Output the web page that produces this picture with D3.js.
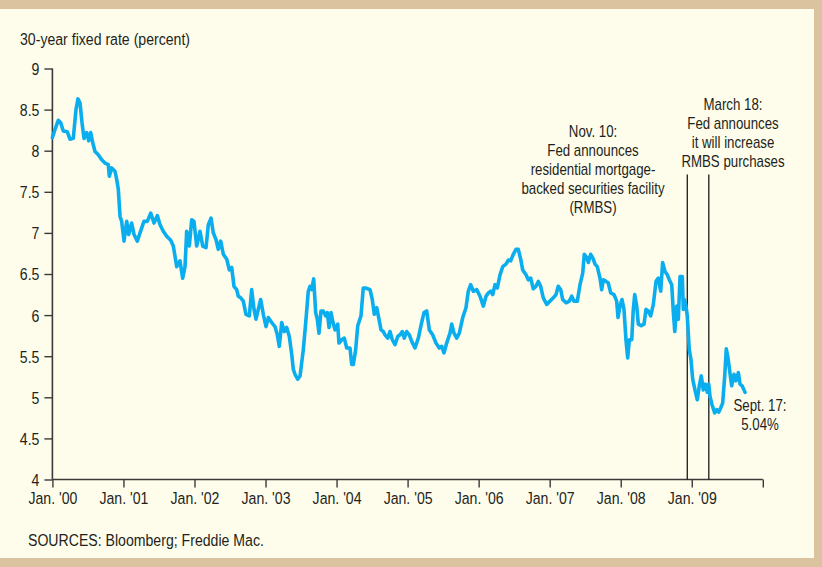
<!DOCTYPE html>
<html>
<head>
<meta charset="utf-8">
<script src="https://cdn.jsdelivr.net/npm/d3@7"></script>
<style>
  html, body { margin: 0; padding: 0; background: #fefdeb; }
  svg { display: block; }
  text { font-family: "Liberation Sans", Arial, sans-serif; fill: #231f20; }
</style>
</head>
<body>
<svg id="chart" width="822" height="567"></svg>
<script>
// ---- Data (years since Jan. 2000, weekly 30-year fixed rate, percent) ----
const times = [0.00,0.037,0.083,0.117,0.153,0.210,0.248,0.294,0.332,0.360,0.389,0.417,0.445,0.483,0.511,0.539,0.567,0.600,0.646,0.694,0.740,0.787,0.801,0.835,0.881,0.905,0.928,0.952,0.975,1.008,1.046,1.074,1.116,1.149,1.195,1.233,1.289,1.336,1.384,1.430,1.477,1.515,1.561,1.609,1.665,1.702,1.750,1.796,1.834,1.867,1.890,1.927,1.961,1.993,2.031,2.078,2.116,2.162,2.195,2.233,2.265,2.303,2.335,2.369,2.406,2.454,2.490,2.524,2.556,2.594,2.617,2.651,2.687,2.725,2.772,2.805,2.838,2.866,2.898,2.932,2.969,3.007,3.039,3.087,3.133,3.166,3.194,3.228,3.264,3.298,3.335,3.369,3.391,3.415,3.453,3.486,3.532,3.566,3.602,3.626,3.650,3.678,3.706,3.729,3.753,3.781,3.813,3.847,3.870,3.894,3.922,3.950,3.978,4.016,4.034,4.072,4.109,4.143,4.189,4.213,4.236,4.269,4.298,4.344,4.376,4.410,4.438,4.471,4.503,4.531,4.565,4.588,4.626,4.658,4.682,4.720,4.752,4.785,4.823,4.861,4.893,4.925,4.953,4.987,5.024,5.058,5.104,5.151,5.198,5.231,5.269,5.306,5.353,5.400,5.446,5.480,5.512,5.550,5.597,5.621,5.653,5.691,5.728,5.776,5.822,5.854,5.888,5.925,5.973,6.019,6.066,6.104,6.136,6.170,6.198,6.231,6.263,6.301,6.339,6.385,6.418,6.451,6.488,6.526,6.558,6.592,6.620,6.667,6.699,6.733,6.769,6.807,6.840,6.873,6.910,6.958,7.004,7.051,7.089,7.121,7.155,7.183,7.230,7.276,7.310,7.342,7.389,7.427,7.465,7.487,7.521,7.544,7.577,7.614,7.638,7.670,7.708,7.732,7.755,7.793,7.825,7.859,7.905,7.943,7.962,7.990,8.018,8.046,8.074,8.098,8.121,8.155,8.177,8.197,8.225,8.248,8.288,8.328,8.356,8.388,8.422,8.459,8.497,8.529,8.563,8.590,8.623,8.656,8.684,8.718,8.741,8.761,8.788,8.811,8.835,8.867,8.881,8.895,8.919,8.937,8.965,8.989,9.013,9.045,9.078,9.106,9.134,9.162,9.191,9.219,9.239,9.257,9.285,9.323,9.351,9.379,9.407,9.435,9.464,9.486,9.510,9.534,9.562,9.595,9.623,9.656,9.680,9.709,9.750];
const rates = [8.16,8.26,8.37,8.34,8.24,8.23,8.14,8.15,8.50,8.63,8.58,8.34,8.15,8.22,8.12,8.22,8.10,7.99,7.95,7.89,7.85,7.83,7.69,7.79,7.75,7.65,7.53,7.20,7.14,6.90,7.14,6.98,7.12,6.98,6.90,7.00,7.14,7.14,7.24,7.12,7.21,7.10,7.02,6.96,6.91,6.84,6.59,6.66,6.45,6.59,7.02,6.84,7.16,7.14,6.84,7.02,6.84,6.82,7.10,7.18,7.00,6.92,6.80,6.90,6.74,6.68,6.55,6.58,6.35,6.31,6.23,6.21,6.17,6.01,5.99,6.31,6.07,5.95,6.07,6.19,6.01,5.86,5.97,5.91,5.86,5.76,5.62,5.91,5.80,5.85,5.74,5.52,5.34,5.28,5.22,5.26,5.58,5.91,6.29,6.35,6.31,6.44,6.03,5.95,5.78,6.05,6.05,5.99,6.03,5.85,6.03,5.91,5.82,5.89,5.66,5.70,5.72,5.60,5.60,5.40,5.40,5.58,5.87,5.99,6.33,6.33,6.32,6.31,6.19,6.01,6.09,5.99,5.82,5.80,5.76,5.72,5.80,5.70,5.64,5.74,5.76,5.80,5.72,5.80,5.76,5.68,5.60,5.72,5.91,6.03,6.05,5.82,5.76,5.66,5.60,5.62,5.54,5.66,5.78,5.89,5.78,5.72,5.78,5.97,6.09,6.29,6.37,6.29,6.31,6.23,6.11,6.23,6.27,6.29,6.25,6.37,6.33,6.49,6.59,6.62,6.67,6.66,6.74,6.80,6.80,6.68,6.55,6.49,6.43,6.45,6.32,6.35,6.41,6.35,6.21,6.13,6.17,6.21,6.25,6.35,6.31,6.19,6.15,6.17,6.23,6.17,6.17,6.37,6.51,6.74,6.70,6.64,6.74,6.68,6.62,6.59,6.45,6.31,6.43,6.41,6.39,6.27,6.25,6.17,5.97,6.11,6.19,6.07,5.70,5.48,5.70,5.70,6.07,6.25,6.11,5.89,5.87,5.89,6.07,6.05,5.99,6.13,6.41,6.45,6.29,6.64,6.53,6.49,6.43,6.37,6.03,5.80,6.11,5.95,6.47,6.47,6.07,6.19,6.11,5.99,5.58,5.46,5.22,5.09,4.97,5.14,5.26,5.09,5.16,5.06,5.16,5.01,4.91,4.81,4.85,4.82,4.87,4.93,5.26,5.59,5.48,5.32,5.14,5.28,5.20,5.30,5.16,5.14,5.06];

const xTickValues = [0,1,2,3,4,5,6,7,8,9,10];
const xTickLabels = ["Jan. '00","Jan. '01","Jan. '02","Jan. '03","Jan. '04","Jan. '05","Jan. '06","Jan. '07","Jan. '08","Jan. '09",""];
const yTickValues = [4,4.5,5,5.5,6,6.5,7,7.5,8,8.5,9];
const yTickLabels = ["4","4.5","5","5.5","6","6.5","7","7.5","8","8.5","9"];

const eventTimes = [8.937, 9.240];   // Nov. 10, 2008 and March 18, 2009 as drawn
const eventTop = 7.71;                // top of the event lines (rate units)

const titleText = "30-year fixed rate (percent)";
const sourceText = "SOURCES: Bloomberg; Freddie Mac.";
const note1 = ["Nov. 10:","Fed announces","residential mortgage-","backed securities facility","(RMBS)"];
const note2 = ["March 18:","Fed announces","it will increase","RMBS purchases"];
const note3 = ["Sept. 17:","5.04%"];

// ---- Drawing ----
const SX = 0.83; // horizontal condensing of the sans face
const svg = d3.select("#chart");
const W = 822, H = 567;

// frame
svg.append("rect").attr("x",0).attr("y",0).attr("width",W).attr("height",H).attr("fill","#dbc39f");
svg.append("rect").attr("x",0).attr("y",9).attr("width",814).attr("height",549).attr("fill","#fefdeb");

const x = d3.scaleLinear().domain([0,10]).range([52.4, 762.8]);
const y = d3.scaleLinear().domain([4,9]).range([479.5, 68.5]);

function label(str, px, py, size, anchor){
  svg.append("g").attr("transform",`translate(${px},${py}) scale(${SX},1)`)
    .append("text").attr("font-size",size).attr("text-anchor",anchor||"start").text(str);
}

// title
label(titleText, 20, 44.5, 17);

// y axis
const yAxis = d3.axisLeft(y).tickValues(yTickValues)
  .tickFormat((d,i)=>yTickLabels[i]).tickSize(8).tickPadding(4);
const gy = svg.append("g").attr("transform",`translate(${x(0)},0)`).call(yAxis);
gy.attr("font-family",null);
gy.select(".domain").attr("stroke","#3a3a3a").attr("stroke-width",1.6).attr("d",`M0,${y(9)}V${y(4)}`);
gy.selectAll(".tick line").attr("stroke","#3a3a3a").attr("stroke-width",1.4);
gy.selectAll(".tick text").attr("font-size",17).attr("fill","#231f20")
  .attr("x",-13/SX).attr("dy","0.35em").attr("transform",`scale(${SX},1)`);

// x axis
const xAxis = d3.axisBottom(x).tickValues(xTickValues)
  .tickFormat((d,i)=>xTickLabels[i]).tickSize(8).tickPadding(4);
const gx = svg.append("g").attr("transform",`translate(0,${y(4)})`).call(xAxis);
gx.attr("font-family",null);
gx.select(".domain").attr("stroke","#3a3a3a").attr("stroke-width",1.6).attr("d",`M${x(0)},0H${x(10)}`);
gx.selectAll(".tick line").attr("stroke","#3a3a3a").attr("stroke-width",1.4);
gx.selectAll(".tick text").attr("font-size",17).attr("fill","#231f20").attr("transform",`scale(${SX},1)`);

// event lines
svg.append("g").selectAll("line").data(eventTimes).join("line")
  .attr("x1",d=>x(d)).attr("x2",d=>x(d))
  .attr("y1",y(eventTop)).attr("y2",y(4))
  .attr("stroke","#1a1a1a").attr("stroke-width",1.3);

// series line
const pts = times.map((t,i)=>[t,rates[i]]);
svg.append("path").datum(pts)
  .attr("fill","none").attr("stroke","#0aaeef").attr("stroke-width",3.6)
  .attr("stroke-linejoin","round").attr("stroke-linecap","round")
  .attr("d", d3.line().x(d=>x(d[0])).y(d=>y(d[1])));

// annotations
function note(lines, cx, y0, dy){
  const t = svg.append("g").attr("transform",`translate(${cx},0) scale(${SX},1)`)
    .append("text").attr("text-anchor","middle").attr("font-size",16);
  lines.forEach((s,i)=>t.append("tspan").attr("x",0).attr("y",y0+i*dy).text(s));
}
note(note1, 593, 137, 19);
note(note2, 733, 110, 19.1);
note(note3, 760, 411, 18.6);

// source
label(sourceText, 28, 546, 17);
</script>
</body>
</html>
